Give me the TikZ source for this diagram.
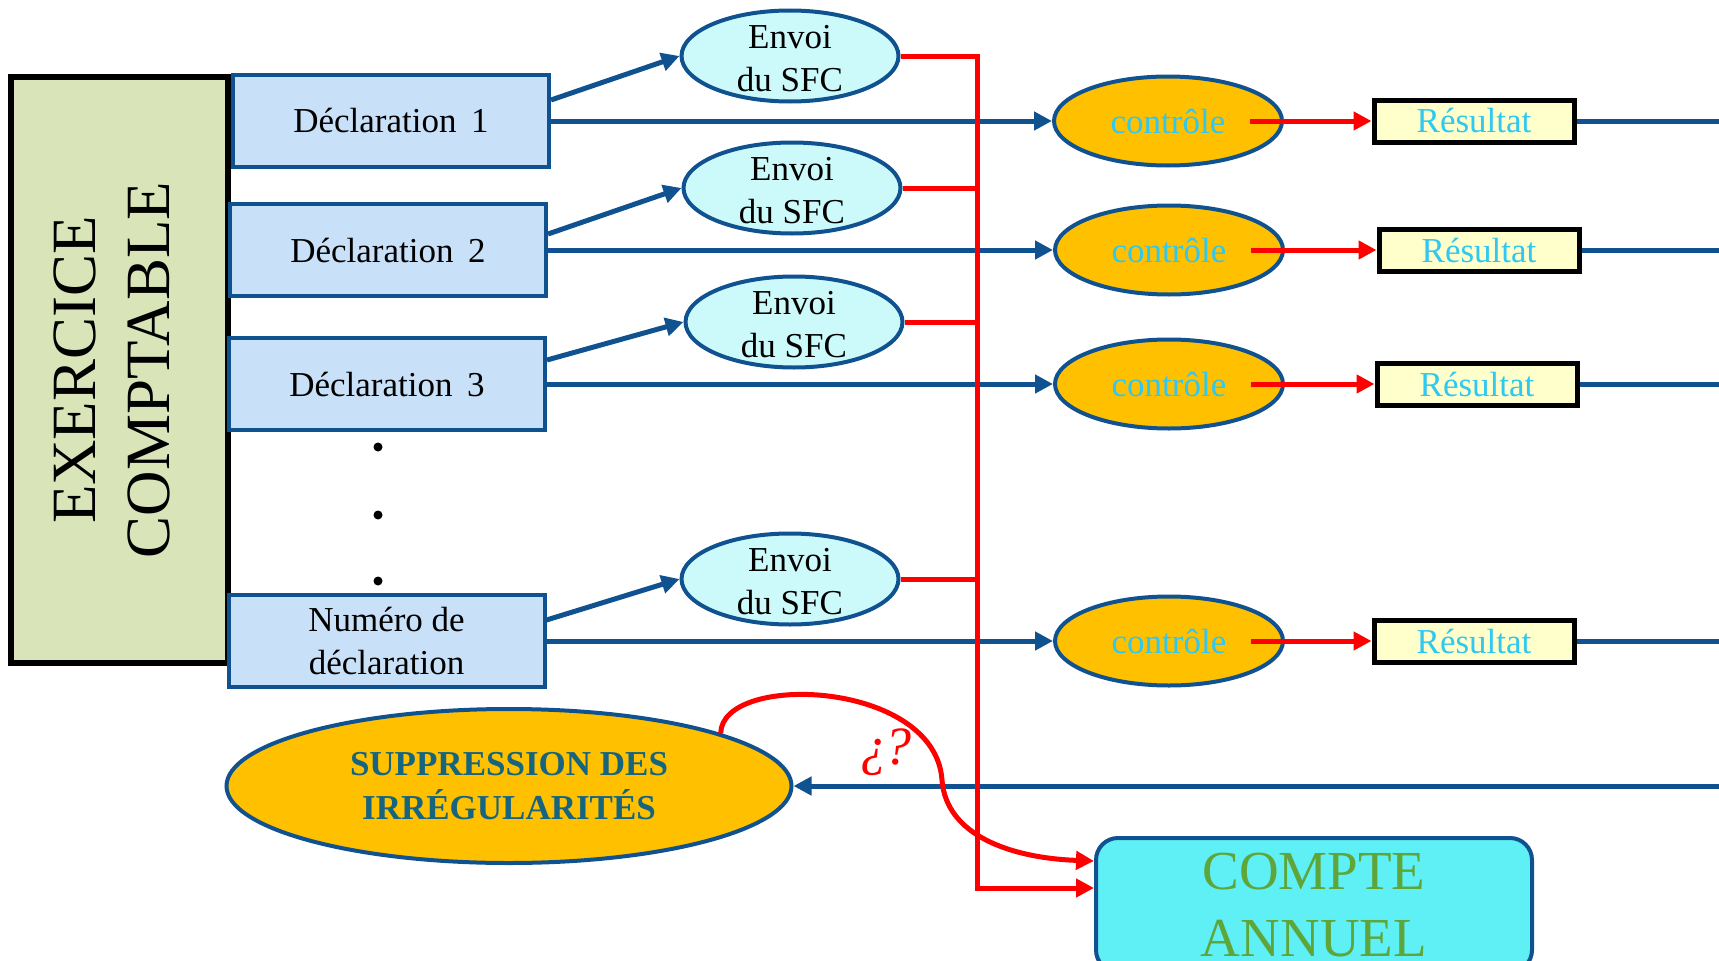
\documentclass[tikz,border=0pt]{standalone}
\usepackage{fontspec}
\setmainfont{Liberation Serif}
\usetikzlibrary{arrows.meta,shapes.geometric,calc}
\definecolor{dblue}{HTML}{10528F}
\definecolor{declfill}{HTML}{C9E1F8}
\definecolor{envfill}{HTML}{CCFAFA}
\definecolor{orangefill}{HTML}{FFC000}
\definecolor{cyantext}{HTML}{2EC8F0}
\definecolor{resfill}{HTML}{FFFFCC}
\definecolor{exfill}{HTML}{D9E5B9}
\definecolor{cafill}{HTML}{5FF0F5}
\definecolor{cagreen}{HTML}{5EA53A}
\definecolor{suptext}{HTML}{17647F}
\definecolor{redline}{HTML}{FF0000}
\begin{document}
\begin{tikzpicture}[x=1pt,y=-1pt,
  fs/.style={font=\fontsize{35}{43}\selectfont},
  exbox/.style={draw=black, line width=6pt, fill=exfill, rotate=90, minimum width=586pt, minimum height=217pt, inner sep=0pt, align=center, font=\fontsize{63}{74}\selectfont, text height=116pt, text depth=16pt},
  declbox/.style={draw=dblue, line width=4pt, fill=declfill, minimum width=316pt, minimum height=92pt, inner sep=0pt, align=center, fs},
  envoi/.style={ellipse, draw=dblue, line width=4pt, fill=envfill, minimum width=217pt, minimum height=91pt, inner xsep=0pt, inner ysep=-20pt, align=center, fs, text height=70pt, text depth=0pt},
  ctrl/.style={ellipse, draw=dblue, line width=4pt, fill=orangefill, minimum width=228pt, minimum height=89pt, inner sep=0pt, text=cyantext, fs},
  resbox/.style={draw=black, line width=5pt, fill=resfill, minimum width=200pt, minimum height=42pt, inner sep=0pt, text=cyantext, fs},
  supell/.style={ellipse, draw=dblue, line width=4pt, fill=orangefill, minimum width=565pt, minimum height=154pt, inner sep=0pt, align=center, text=suptext, font=\bfseries\fontsize{35}{44}\selectfont},
  cabox/.style={draw=dblue, line width=4pt, fill=cafill, rounded corners=22pt, minimum width=436pt, minimum height=134pt, inner sep=0pt, align=center, text=cagreen, font=\fontsize{55}{67}\selectfont, anchor=north},
  qmark/.style={text=redline, font=\itshape\fontsize{54}{60}\selectfont},
  bl/.style={draw=dblue, line width=5pt},
  bla/.style={bl, -{Triangle[length=18pt,width=18pt]}},
  rd/.style={draw=redline, line width=5pt},
  rda/.style={rd, -{Triangle[length=18pt,width=18pt]}},
]
\useasboundingbox (0,0) rectangle (1719,961);
\clip (0,0) rectangle (1719,961);

% nodes
\node[exbox] (ex) at (119.5,370) {EXERCICE\\COMPTABLE};

\node[declbox] (d1) at (391,121) {Déclaration\hspace{0.42em}1};
\node[declbox] (d2) at (388,250) {Déclaration\hspace{0.42em}2};
\node[declbox] (d3) at (387,384) {Déclaration\hspace{0.42em}3};
\node[declbox] (d4) at (386.5,641) {Numéro de\\déclaration};

\node[envoi] (e1) at (790,56) {Envoi\\du SFC};
\node[envoi] (e2) at (792,188) {Envoi\\du SFC};
\node[envoi] (e3) at (794,322) {Envoi\\du SFC};
\node[envoi] (e4) at (790,579) {Envoi\\du SFC};

\node[ctrl] (c1) at (1168,121) {contrôle};
\node[ctrl] (c2) at (1169,250) {contrôle};
\node[ctrl] (c3) at (1169,384) {contrôle};
\node[ctrl] (c4) at (1169,641) {contrôle};

\node[resbox] (r1) at (1474,121) {Résultat};
\node[resbox] (r2) at (1479,250) {Résultat};
\node[resbox] (r3) at (1477,384) {Résultat};
\node[resbox] (r4) at (1474,641) {Résultat};

\node[supell] (sup) at (509,786) {SUPPRESSION DES\\IRRÉGULARITÉS};
\node[cabox] (ca) at (1314,836) {COMPTE\\ANNUEL};
\node[qmark] (q) at (886,752) {¿\kern-3pt?};

% dots
\fill (378,447) circle (4.5);
\fill (378,515) circle (4.5);
\fill (378,581) circle (4.5);

% edge coordinates
\coordinate (x1) at (1719,121);
\coordinate (x2) at (1719,250);
\coordinate (x3) at (1719,384);
\coordinate (x4) at (1719,641);
\coordinate (xs) at (1719,786);
\coordinate (vtop) at (977,56);
\coordinate (vbot) at (977,888);

% blue connectors
\draw[bla] ([yshift=-27pt]d1.north east) -- (e1.west);
\draw[bla] ([yshift=-32pt]d2.north east) -- (e2.west);
\draw[bla] ([yshift=-24pt]d3.north east) -- (e3.west);
\draw[bla] ([yshift=-27pt]d4.north east) -- (e4.west);
\draw[bla] (d1.east) -- (c1.west);
\draw[bla] (d2.east) -- (c2.west);
\draw[bla] (d3.east) -- (c3.west);
\draw[bla] (d4.east) -- (c4.west);
\draw[bl] (r1.east) -- (x1);
\draw[bl] (r2.east) -- (x2);
\draw[bl] (r3.east) -- (x3);
\draw[bl] (r4.east) -- (x4);
\draw[bla] (xs) -- (sup.east);

% red connectors
\draw[rda] ([xshift=82pt]c1.center) -- (r1.west);
\draw[rda] ([xshift=82pt]c2.center) -- (r2.west);
\draw[rda] ([xshift=82pt]c3.center) -- (r3.west);
\draw[rda] ([xshift=82pt]c4.center) -- (r4.west);
\draw[rd] (e2.east) -- (e2.east -| vtop);
\draw[rd] (e3.east) -- (e3.east -| vtop);
\draw[rd] (e4.east) -- (e4.east -| vtop);
\draw[rda] (e1.east) -- (vtop) -- (vbot) -- (vbot -| ca.west);
\draw[rda] (sup.14) .. controls (722,672) and (935,680) .. (942,780)
   .. controls (946,835) and (1010,858) .. ([yshift=-25pt]ca.north west);
\end{tikzpicture}
\end{document}
